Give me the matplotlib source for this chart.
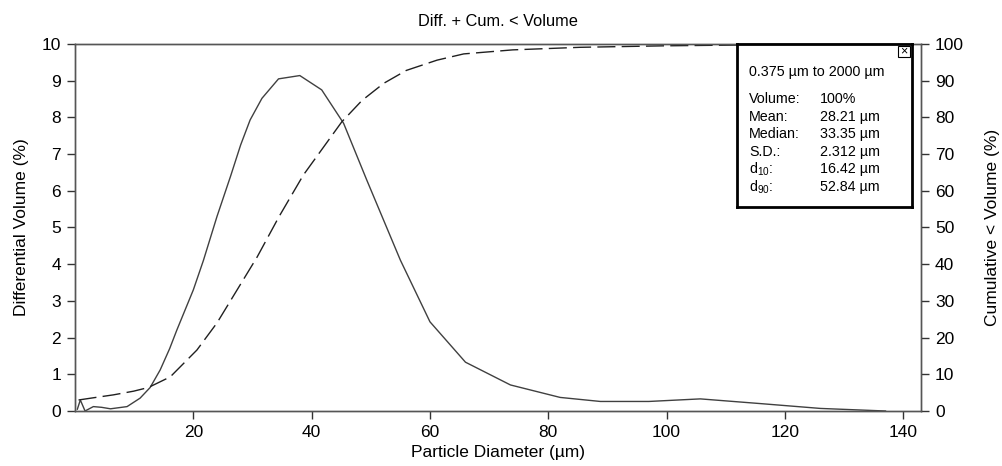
import numpy as np
import matplotlib
matplotlib.use('Agg')
import matplotlib.pyplot as plt

plt.rcParams['font.family'] = ['Liberation Sans', 'DejaVu Sans']
plt.rcParams['mathtext.fontset'] = 'custom'
plt.rcParams['mathtext.rm'] = 'Liberation Sans'
plt.rcParams['mathtext.it'] = 'Liberation Sans'

# Differential volume (%) vs particle diameter (um)
diam = [0.4, 0.9, 1.7, 3.1, 4.5, 6.0, 8.8, 11.0, 12.7, 14.4, 16.0, 17.2, 20.0, 21.7,
        24.0, 26.3, 28.0, 29.6, 31.6, 34.4, 38.0, 41.7, 45.4, 49.3, 55.0, 60.0,
        66.0, 73.6, 82.0, 88.8, 97.0, 105.7, 116.0, 126.0, 137.0]
diff = [0.05, 0.3, 0.0, 0.12, 0.1, 0.06, 0.12, 0.35, 0.64, 1.12, 1.7, 2.2, 3.3, 4.1,
        5.3, 6.4, 7.25, 7.93, 8.52, 9.05, 9.14, 8.75, 7.84, 6.3, 4.11, 2.43,
        1.33, 0.71, 0.37, 0.26, 0.26, 0.33, 0.2, 0.07, 0.0]

# Cumulative < volume (%)
cum_x = [0.6, 3.1, 6.5, 9.9, 12.4, 16.1, 20.6, 24.0, 27.4, 30.8, 34.5, 38.6,
         45.1, 48.5, 52.2, 56.0, 61.2, 65.7, 74.0, 85.4, 99.5, 111.0, 125.0, 137.0]
cum = [3.0, 3.6, 4.4, 5.4, 6.4, 9.3, 16.6, 24.0, 33.0, 42.0, 53.0, 64.3,
       78.8, 84.6, 89.3, 92.8, 95.6, 97.3, 98.4, 99.1, 99.5, 99.7, 99.9, 100.0]

stats_names = ['Volume:', 'Mean:', 'Median:', 'S.D.:', 'd$_{10}$:', 'd$_{90}$:']
stats_vals = ['100%', '28.21 µm', '33.35 µm', '2.312 µm', '16.42 µm', '52.84 µm']

fig = plt.figure(figsize=(10.03, 4.66), dpi=100)
ax = fig.add_axes([75 / 1003, 55 / 466, 846 / 1003, 367 / 466])
ax2 = ax.twinx()

ax.plot(diam, diff, color='#404040', lw=1.0)
ax2.plot(cum_x, cum, color='#202020', lw=1.0, dashes=(13, 4.5))

ax.set_xlim(0, 143)
ax.set_ylim(0, 10)
ax2.set_ylim(0, 100)
ax.set_xticks(np.arange(20, 141, 20))
ax.set_yticks(np.arange(0, 11, 1))
ax2.set_yticks(np.arange(0, 101, 10))

for a in (ax, ax2):
    a.tick_params(labelsize=12.5, length=6, width=1, direction='out', color='#333333', pad=4)
    for s in a.spines.values():
        s.set_color('#555555')
        s.set_linewidth(1.0)

ax.set_xlabel('Particle Diameter (µm)', fontsize=12.5, labelpad=4)
ax.set_ylabel('Differential Volume (%)', fontsize=12.5, labelpad=9)
ax2.set_ylabel('Cumulative < Volume (%)', fontsize=12.5, labelpad=15)
ax.set_title('Diff. + Cum. < Volume', fontsize=11.75, pad=13)

# statistics box
bx = fig.add_axes([737 / 1003, 259 / 466, 175 / 1003, 163 / 466])
bx.set_xticks([])
bx.set_yticks([])
bx.set_xlim(0, 175)
bx.set_ylim(163, 0)
for s in bx.spines.values():
    s.set_linewidth(2.0)
    s.set_color('black')
bx.text(12, 28, '0.375 µm to 2000 µm', fontsize=10.3, va='center')
for i, (n, v) in enumerate(zip(stats_names, stats_vals)):
    y = 55 + i * 17.6
    bx.text(12, y, n, fontsize=10.3, va='center')
    bx.text(83, y, v, fontsize=10.3, va='center')
bx.add_patch(plt.Rectangle((161, 2), 12, 11, fill=False, lw=0.8, color='black'))
bx.text(167, 7.5, '×', fontsize=9, ha='center', va='center')

fig.savefig('out.png', dpi=100)
